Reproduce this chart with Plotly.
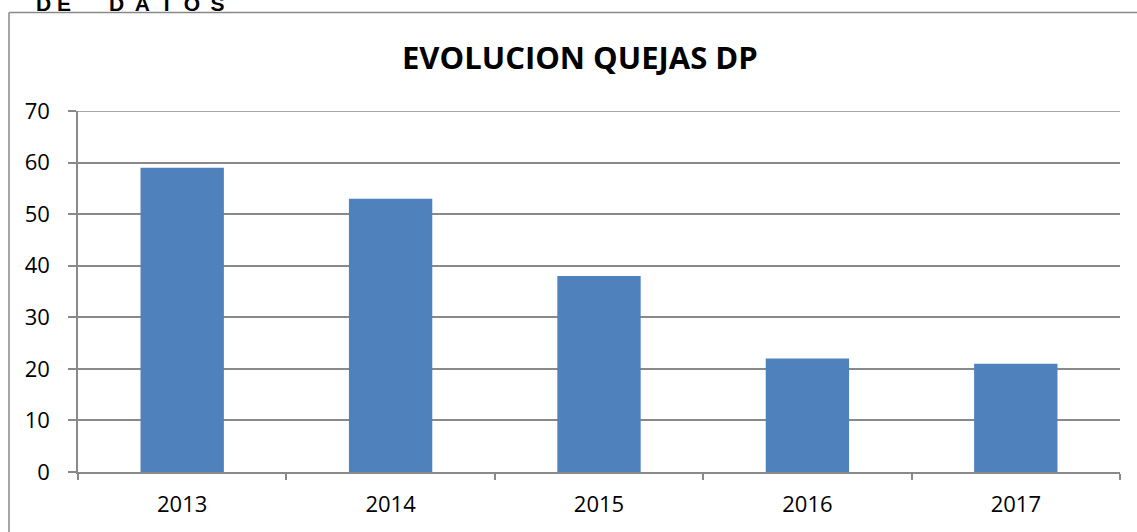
import plotly.graph_objects as go

years = ["2013", "2014", "2015", "2016", "2017"]
quejas = [59, 53, 38, 22, 21]
title_text = "EVOLUCION QUEJAS DP"
header_left = "D E"
header_right = "D\u2002A\u2002T\u2002O\u2002S"

W, H = 1137, 532
L, R, T, B = 78, 17, 111, 60
pw, ph = W - L - R, H - T - B

def px_x(px):
    return (px - L) / pw

def px_y(py):
    return (H - B - py) / ph

fig = go.Figure(go.Bar(x=years, y=quejas, marker=dict(color="#4F81BD", line=dict(width=0)), width=0.4))

grid = "#898989"
fig.update_layout(
    width=W, height=H,
    margin=dict(l=L, r=R, t=T, b=B),
    paper_bgcolor="white", plot_bgcolor="white",
    showlegend=False,
    font=dict(family="Open Sans, Liberation Sans, sans-serif", color="#000000", size=22),
    xaxis=dict(type="category", showgrid=False, showline=True, linecolor=grid, linewidth=1.5,
               ticks="outside", tickson="boundaries", ticklen=6, tickcolor=grid, tickwidth=1.5,
               tickfont=dict(size=22), ticklabelstandoff=12),
    yaxis=dict(range=[0, 70], dtick=10, showgrid=True, gridcolor=grid, gridwidth=1.5,
               showline=True, linecolor=grid, linewidth=1.5, ticks="outside", ticklen=8,
               tickcolor=grid, tickwidth=1.5, zeroline=False, tickfont=dict(size=22),
               ticklabelstandoff=14),
    annotations=[
        dict(text="<b>" + title_text + "</b>", xref="paper", yref="paper",
             x=px_x(580), y=px_y(57), xanchor="center", yanchor="middle", showarrow=False,
             font=dict(size=31, family="Open Sans, Liberation Sans, sans-serif", color="#000")),
        dict(text="<b>" + header_left + "</b>", xref="paper", yref="paper",
             x=px_x(34), y=px_y(3.5), xanchor="left", yanchor="middle", showarrow=False,
             font=dict(size=21, family="Liberation Sans, sans-serif", color="#000")),
        dict(text="<b>" + header_right + "</b>", xref="paper", yref="paper",
             x=px_x(107), y=px_y(3.5), xanchor="left", yanchor="middle", showarrow=False,
             font=dict(size=21, family="Liberation Sans, sans-serif", color="#000")),
    ],
    shapes=[
        dict(type="line", xref="paper", yref="paper", x0=px_x(9), x1=px_x(9), y0=px_y(540), y1=px_y(12.5),
             line=dict(color=grid, width=1.5)),
        dict(type="line", xref="paper", yref="paper", x0=px_x(9), x1=px_x(1145), y0=px_y(12.5), y1=px_y(12.5),
             line=dict(color=grid, width=1.5)),
        dict(type="line", xref="paper", yref="y", x0=0, x1=1, y0=70, y1=70,
             line=dict(color=grid, width=1.5)),
    ],
)

fig.write_html("out.html", config={"displayModeBar": False},
               post_script="document.body.style.margin='0';")
